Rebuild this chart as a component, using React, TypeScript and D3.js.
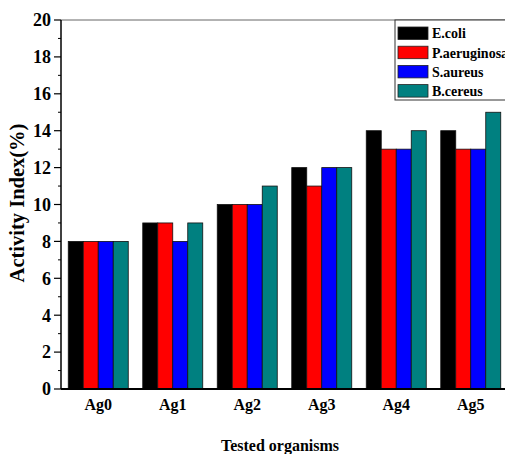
import React from "react";
import * as d3 from "d3";

const categories = ["Ag0", "Ag1", "Ag2", "Ag3", "Ag4", "Ag5"];
const seriesNames = ["E.coli", "P.aeruginosa", "S.aureus", "B.cereus"];
const ecoli = [8, 9, 10, 12, 14, 14];
const paeruginosa = [8, 9, 10, 11, 13, 13];
const saureus = [8, 8, 10, 12, 13, 13];
const bcereus = [8, 9, 11, 12, 14, 15];
const seriesColors = ["#000000", "#ff0000", "#0000ff", "#008080"];
const yTicks = [0, 2, 4, 6, 8, 10, 12, 14, 16, 18, 20];
const yMinorTicks = [1, 3, 5, 7, 9, 11, 13, 15, 17, 19];

const W = 505;
const H = 454;
const left = 61;
const right = 508;
const top = 20;
const bottom = 389;

export default function App() {
  const values = [ecoli, paeruginosa, saureus, bcereus];
  const x = d3
    .scaleBand<string>()
    .domain(categories)
    .range([left, right])
    .paddingInner(0.1946)
    .paddingOuter(0.0973);
  const xi = d3
    .scaleBand<string>()
    .domain(seriesNames)
    .range([0, x.bandwidth()]);
  const y = d3.scaleLinear().domain([0, 20]).range([bottom, top]);
  const font = "'Liberation Serif', 'Times New Roman', serif";

  return (
    <svg
      width={W}
      height={H}
      style={{ position: "absolute", left: 0, top: 0, background: "#fff" }}
      fontFamily={font}
      fontWeight="bold"
    >
      {/* frame top */}
      <line x1={left} x2={W} y1={top} y2={top} stroke="#666" strokeWidth={1} />
      {/* bars */}
      {categories.map((c, ci) =>
        seriesNames.map((s, si) => {
          const v = values[si][ci];
          return (
            <rect
              key={c + s}
              x={(x(c) as number) + (xi(s) as number)}
              y={y(v)}
              width={xi.bandwidth()}
              height={y(0) - y(v)}
              fill={seriesColors[si]}
              stroke="#111"
              strokeWidth={0.8}
            />
          );
        })
      )}
      {/* y axis */}
      <line x1={left} x2={left} y1={top} y2={bottom} stroke="#000" strokeWidth={1.5} />
      {yTicks.map((t) => (
        <g key={"y" + t}>
          <line x1={left - 7} x2={left} y1={y(t)} y2={y(t)} stroke="#000" strokeWidth={1.2} />
          <text x={51} y={y(t)} dy="0.35em" textAnchor="end" fontSize={18}>
            {t}
          </text>
        </g>
      ))}
      {yMinorTicks.map((t) => (
        <line key={"m" + t} x1={left - 3} x2={left} y1={y(t)} y2={y(t)} stroke="#000" strokeWidth={1} />
      ))}
      {/* x axis */}
      <line x1={left} x2={W} y1={bottom} y2={bottom} stroke="#000" strokeWidth={2} />
      {categories.map((c) => (
        <text
          key={"x" + c}
          x={(x(c) as number) + x.bandwidth() / 2}
          y={410}
          textAnchor="middle"
          fontSize={16}
        >
          {c}
        </text>
      ))}
      <text x={280} y={451} textAnchor="middle" fontSize={16}>
        Tested organisms
      </text>
      <text
        transform={`translate(24, 203) rotate(-90)`}
        textAnchor="middle"
        fontSize={20.5}
      >
        Activity Index(%)
      </text>
      {/* legend */}
      <rect x={395} y={top} width={120} height={80} fill="#fff" stroke="#333" strokeWidth={1} />
      {seriesNames.map((s, si) => {
        const ry = 27 + si * 19.2;
        return (
          <g key={"l" + s}>
            <rect x={398} y={ry} width={30} height={12.5} fill={seriesColors[si]} stroke="#222" strokeWidth={0.8} />
            <text x={432} y={ry + 6.5} dy="0.35em" fontSize={14}>
              {s}
            </text>
          </g>
        );
      })}
    </svg>
  );
}
